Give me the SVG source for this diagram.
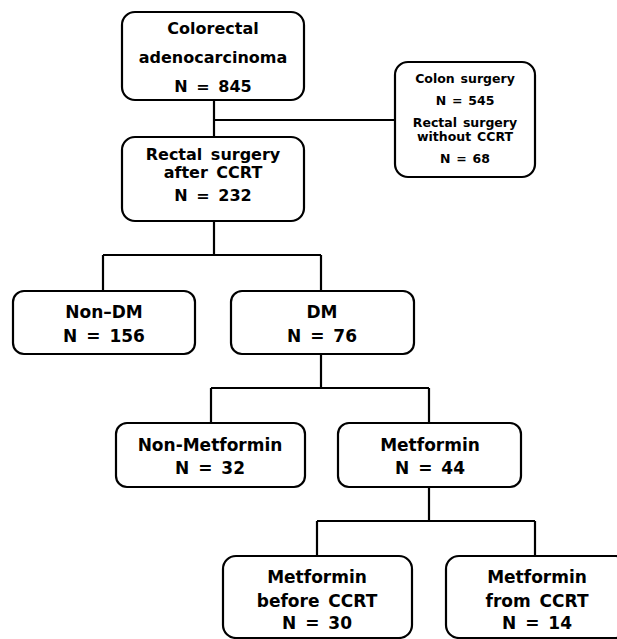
<svg xmlns="http://www.w3.org/2000/svg" width="617" height="639" viewBox="0 0 617 639">
<style>
.box{fill:#fff;stroke:#000;stroke-width:2.2}
.t{font-family:"DejaVu Sans",sans-serif;font-weight:bold;font-size:16px;word-spacing:3px;text-anchor:middle;fill:#000}
.b{font-size:17px}
.s{font-family:"DejaVu Sans",sans-serif;font-weight:bold;font-size:12.5px;word-spacing:1.5px;text-anchor:middle;fill:#000}
.c{fill:none;stroke:#000;stroke-width:2.2}
</style>
<rect width="617" height="639" fill="#fff"/>
<g id="connectors">
<path class="c" d="M214,100 V137 M214,120 H395"/>
<path class="c" d="M214,221 V255 M103,255 H321 M103,255 V291 M321,255 V291"/>
<path class="c" d="M321,354 V388 M211,388 H429 M211,388 V423 M429,388 V423"/>
<path class="c" d="M429,487 V521 M317,521 H535 M317,521 V556 M535,521 V556"/>
</g>
<g id="n1">
<rect class="box" x="122" y="12" width="182" height="88" rx="13"/>
<text class="t" x="213" y="34">Colorectal</text>
<text class="t" x="213" y="63">adenocarcinoma</text>
<text class="t" x="213" y="92">N = 845</text>
</g>
<g id="n2">
<rect class="box" x="395" y="62" width="140" height="115" rx="13"/>
<text class="s" x="465" y="83">Colon surgery</text>
<text class="s" x="465" y="105">N = 545</text>
<text class="s" x="465" y="127">Rectal surgery</text>
<text class="s" x="465" y="141">without CCRT</text>
<text class="s" x="465" y="163">N = 68</text>
</g>
<g id="n3">
<rect class="box" x="122" y="137" width="182" height="84" rx="13"/>
<text class="t" x="213" y="160">Rectal surgery</text>
<text class="t" x="213" y="178">after CCRT</text>
<text class="t" x="213" y="201">N = 232</text>
</g>
<g id="n4">
<rect class="box" x="13" y="291" width="182" height="63" rx="11"/>
<text class="t b" x="104" y="318">Non–DM</text>
<text class="t b" x="104" y="342">N = 156</text>
</g>
<g id="n5">
<rect class="box" x="231" y="291" width="183" height="63" rx="11"/>
<text class="t b" x="322" y="318">DM</text>
<text class="t b" x="322" y="342">N = 76</text>
</g>
<g id="n6">
<rect class="box" x="116" y="423" width="189" height="64" rx="11"/>
<text class="t b" x="210" y="451">Non-Metformin</text>
<text class="t b" x="210" y="474">N = 32</text>
</g>
<g id="n7">
<rect class="box" x="338" y="423" width="183" height="64" rx="11"/>
<text class="t b" x="430" y="451">Metformin</text>
<text class="t b" x="430" y="474">N = 44</text>
</g>
<g id="n8">
<rect class="box" x="223" y="556" width="189" height="82" rx="13"/>
<text class="t b" x="317" y="583">Metformin</text>
<text class="t b" x="317" y="607">before CCRT</text>
<text class="t b" x="317" y="629">N = 30</text>
</g>
<g id="n9">
<rect class="box" x="446" y="556" width="183" height="82" rx="13"/>
<text class="t b" x="537" y="583">Metformin</text>
<text class="t b" x="537" y="607">from CCRT</text>
<text class="t b" x="537" y="629">N = 14</text>
</g>
</svg>
